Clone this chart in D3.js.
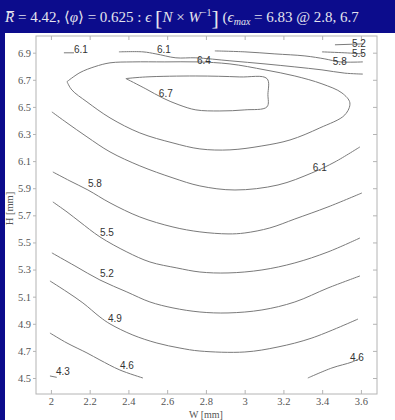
<!DOCTYPE html>
<html>
<head>
<meta charset="utf-8">
<script src="https://cdn.jsdelivr.net/npm/d3@7"></script>
<style>
  html, body { margin: 0; padding: 0; background: #0c0c8c; }
  #chart { width: 395px; height: 420px; }
  .serif { font-family: 'Liberation Serif', 'Times New Roman', 'DejaVu Serif', serif; }
</style>
</head>
<body>
<div id="chart"></div>
<script>
// Tick values of both axes
const xTicks = [2, 2.2, 2.4, 2.6, 2.8, 3, 3.2, 3.4, 3.6]
const yTicks = [4.5, 4.7, 4.9, 5.1, 5.3, 5.5, 5.7, 5.9, 6.1, 6.3, 6.5, 6.7, 6.9]

// Contour lines, [W, H] pairs
const c43 = [[1.995, 4.515], [2.03, 4.505]]
const c46a = [[1.995, 4.832], [2.083, 4.758], [2.186, 4.685], [2.253, 4.633], [2.356, 4.559], [2.475, 4.5]]
const c46b = [[3.326, 4.5], [3.45, 4.574], [3.554, 4.618], [3.595, 4.645]]
const c49 = [[1.995, 5.216], [2.083, 5.135], [2.165, 5.054], [2.253, 4.95], [2.305, 4.899], [2.423, 4.817],
  [2.547, 4.758], [2.666, 4.721], [2.769, 4.699], [3.001, 4.692], [3.172, 4.729], [3.347, 4.795], [3.585, 4.935]]
const c52 = [[2.005, 5.423], [2.124, 5.327], [2.253, 5.223], [2.392, 5.135], [2.511, 5.061], [2.63, 5.017],
  [2.769, 4.987], [2.914, 4.98], [3.089, 5.002], [3.259, 5.061], [3.43, 5.164], [3.595, 5.253]]
const c55 = [[2.01, 5.799], [2.083, 5.725], [2.15, 5.651], [2.253, 5.541], [2.392, 5.43], [2.511, 5.356],
  [2.65, 5.312], [2.769, 5.282], [2.914, 5.275], [3.089, 5.297], [3.259, 5.349], [3.43, 5.43], [3.595, 5.533]]
const c58 = [[2.01, 6.02], [2.098, 5.954], [2.191, 5.887], [2.305, 5.792], [2.459, 5.688], [2.63, 5.614],
  [2.769, 5.578], [2.914, 5.563], [3.001, 5.57], [3.13, 5.607], [3.259, 5.673], [3.43, 5.762], [3.605, 5.865]]
const c61 = [[2.005, 6.463], [2.083, 6.382], [2.186, 6.279], [2.305, 6.168], [2.459, 6.065], [2.63, 5.976],
  [2.769, 5.917], [2.95, 5.887], [3.172, 5.924], [3.347, 6.013], [3.466, 6.094], [3.595, 6.205]]
const c61TopLeft = [[2.067, 6.899], [2.119, 6.899]]
const c61Top = [[2.351, 6.906], [2.475, 6.906], [2.542, 6.891], [2.645, 6.862], [2.748, 6.862], [2.924, 6.84],
  [3.105, 6.817], [3.259, 6.795], [3.399, 6.773], [3.517, 6.749], [3.61, 6.742]]
const c64 = [[2.083, 6.686], [2.15, 6.753], [2.227, 6.797], [2.305, 6.825], [2.423, 6.832], [2.588, 6.832],
  [2.754, 6.832], [2.924, 6.817], [3.105, 6.773], [3.259, 6.728], [3.399, 6.67], [3.502, 6.603], [3.543, 6.53],
  [3.517, 6.441], [3.388, 6.345], [3.234, 6.256], [3.089, 6.212], [2.924, 6.183], [2.769, 6.19], [2.63, 6.234],
  [2.459, 6.308], [2.305, 6.419], [2.186, 6.537], [2.108, 6.625], [2.083, 6.686]]
const c67 = [[2.387, 6.709], [2.49, 6.721], [2.748, 6.728], [2.975, 6.721], [3.115, 6.709], [3.12, 6.591],
  [3.115, 6.5], [3.001, 6.478], [2.872, 6.47], [2.748, 6.478], [2.661, 6.515], [2.578, 6.565], [2.49, 6.633], [2.387, 6.709]]
const c58Top = [[2.846, 6.913], [3.001, 6.906], [3.156, 6.891], [3.311, 6.876], [3.414, 6.854], [3.492, 6.832], [3.61, 6.832]]
const c55Top = [[3.399, 6.906], [3.517, 6.899], [3.61, 6.891]]
const c52Top = [[3.466, 6.958], [3.61, 6.965]]

const contourLines = [c43, c46a, c46b, c49, c52, c55, c58, c61, c61TopLeft, c61Top, c64, c67, c58Top, c55Top, c52Top]

// Contour labels: text and [W, H] of the label start
const labelText = ['4.3', '4.6', '4.6', '4.9', '5.2', '5.5', '5.8', '6.1', '6.4', '6.7', '6.1', '6.1', '5.8', '5.5', '5.2']
const labelPos = [[2.026, 4.522], [2.356, 4.566], [3.543, 4.625], [2.294, 4.913], [2.253, 5.245], [2.253, 5.548],
  [2.191, 5.91], [3.352, 6.028], [2.754, 6.817], [2.557, 6.574], [2.119, 6.899], [2.547, 6.899],
  [3.455, 6.81], [3.554, 6.866], [3.554, 6.94]]

const W = 395
const H = 420
const margin = { top: 36, right: 18, bottom: 26, left: 36 }

const svg = d3.select('#chart').append('svg')
  .attr('width', W)
  .attr('height', H)

// Blue frame with the white figure area
svg.append('rect').attr('width', W).attr('height', H).attr('fill', '#0c0c8c')
svg.append('rect').attr('x', 5).attr('y', 33).attr('width', W - 5).attr('height', H - 33).attr('fill', '#ffffff')

// Title
const title = svg.append('text')
  .attr('class', 'serif')
  .attr('x', 5)
  .attr('y', 22)
  .attr('fill', '#e4e4ee')
  .style('font-size', '15px')
title.append('tspan').style('font-style', 'italic').text('R\u0305')
title.append('tspan').text(' = 4.42,  \u27E8')
title.append('tspan').style('font-style', 'italic').text('\u03C6')
title.append('tspan').text('\u27E9 = 0.625 :  ')
title.append('tspan').style('font-style', 'italic').text('\u03F5 ')
title.append('tspan').style('font-size', '22px').attr('dy', 3).text('[')
title.append('tspan').style('font-style', 'italic').attr('dy', -3).text('N')
title.append('tspan').text(' \u00D7 ')
title.append('tspan').style('font-style', 'italic').text('W')
title.append('tspan').style('font-size', '10px').attr('dy', -6).text('\u22121')
title.append('tspan').style('font-size', '22px').attr('dy', 9).text(']')
title.append('tspan').attr('dy', -3).text('  (')
title.append('tspan').style('font-style', 'italic').text('\u03F5')
title.append('tspan').style('font-size', '10px').style('font-style', 'italic').attr('dy', 3).text('max')
title.append('tspan').attr('dy', -3).text(' = 6.83 @ 2.8, 6.7')

const width = W - margin.left - margin.right
const height = H - margin.top - margin.bottom

const xScale = d3.scaleLinear().domain([1.923, 3.683]).range([0, width])
const yScale = d3.scaleLinear().domain([4.382, 7.023]).range([height, 0])

const g = svg.append('g').attr('transform', `translate(${margin.left}, ${margin.top})`)

// Axes box like MATLAB: ticks on every side, pointing inside
const axisColor = '#b4b4b4'

function styleAxis (sel) {
  sel.attr('font-family', null)
  sel.select('.domain').remove()
  sel.selectAll('.tick line').attr('stroke', axisColor)
  sel.selectAll('.tick text').attr('class', 'serif').attr('fill', '#555').style('font-size', '10.5px')
}

g.append('g')
  .attr('transform', `translate(0, ${height})`)
  .call(d3.axisBottom(xScale).tickValues(xTicks).tickFormat(d3.format('')).tickSizeInner(-4).tickPadding(4))
  .call(styleAxis)
g.append('g')
  .call(d3.axisTop(xScale).tickValues(xTicks).tickSizeInner(-4).tickFormat(''))
  .call(styleAxis)
g.append('g')
  .call(d3.axisLeft(yScale).tickValues(yTicks).tickFormat(d3.format('.1f')).tickSizeInner(3).tickPadding(2))
  .call(styleAxis)
g.append('g')
  .attr('transform', `translate(${width}, 0)`)
  .call(d3.axisRight(yScale).tickValues(yTicks).tickSizeInner(-4).tickFormat(''))
  .call(styleAxis)

g.append('rect')
  .attr('width', width)
  .attr('height', height)
  .attr('fill', 'none')
  .attr('stroke', axisColor)

// Contour lines
const line = d3.line()
  .x(d => xScale(d[0]))
  .y(d => yScale(d[1]))
  .curve(d3.curveCatmullRom.alpha(0.5))

g.selectAll('.contour')
  .data(contourLines)
  .join('path')
  .attr('class', 'contour')
  .attr('d', line)
  .attr('fill', 'none')
  .attr('stroke', '#7a7a7a')
  .attr('stroke-width', 1)

// Contour labels
g.selectAll('.clabel')
  .data(labelText)
  .join('text')
  .attr('class', 'clabel')
  .attr('x', (d, i) => xScale(labelPos[i][0]))
  .attr('y', (d, i) => yScale(labelPos[i][1]))
  .attr('fill', '#333')
  .style('font-family', 'Liberation Sans, Arial, sans-serif')
  .style('font-size', '10px')
  .text(d => d)

// Axis titles
svg.append('text')
  .attr('class', 'serif')
  .attr('x', margin.left + xScale(2.8))
  .attr('y', 418)
  .attr('text-anchor', 'middle')
  .attr('fill', '#555')
  .style('font-size', '10px')
  .text('W [mm]')

svg.append('text')
  .attr('class', 'serif')
  .attr('transform', `translate(13, ${margin.top + yScale(5.75)}) rotate(-90)`)
  .attr('text-anchor', 'middle')
  .attr('fill', '#555')
  .style('font-size', '10.5px')
  .text('H [mm]')
</script>
</body>
</html>
